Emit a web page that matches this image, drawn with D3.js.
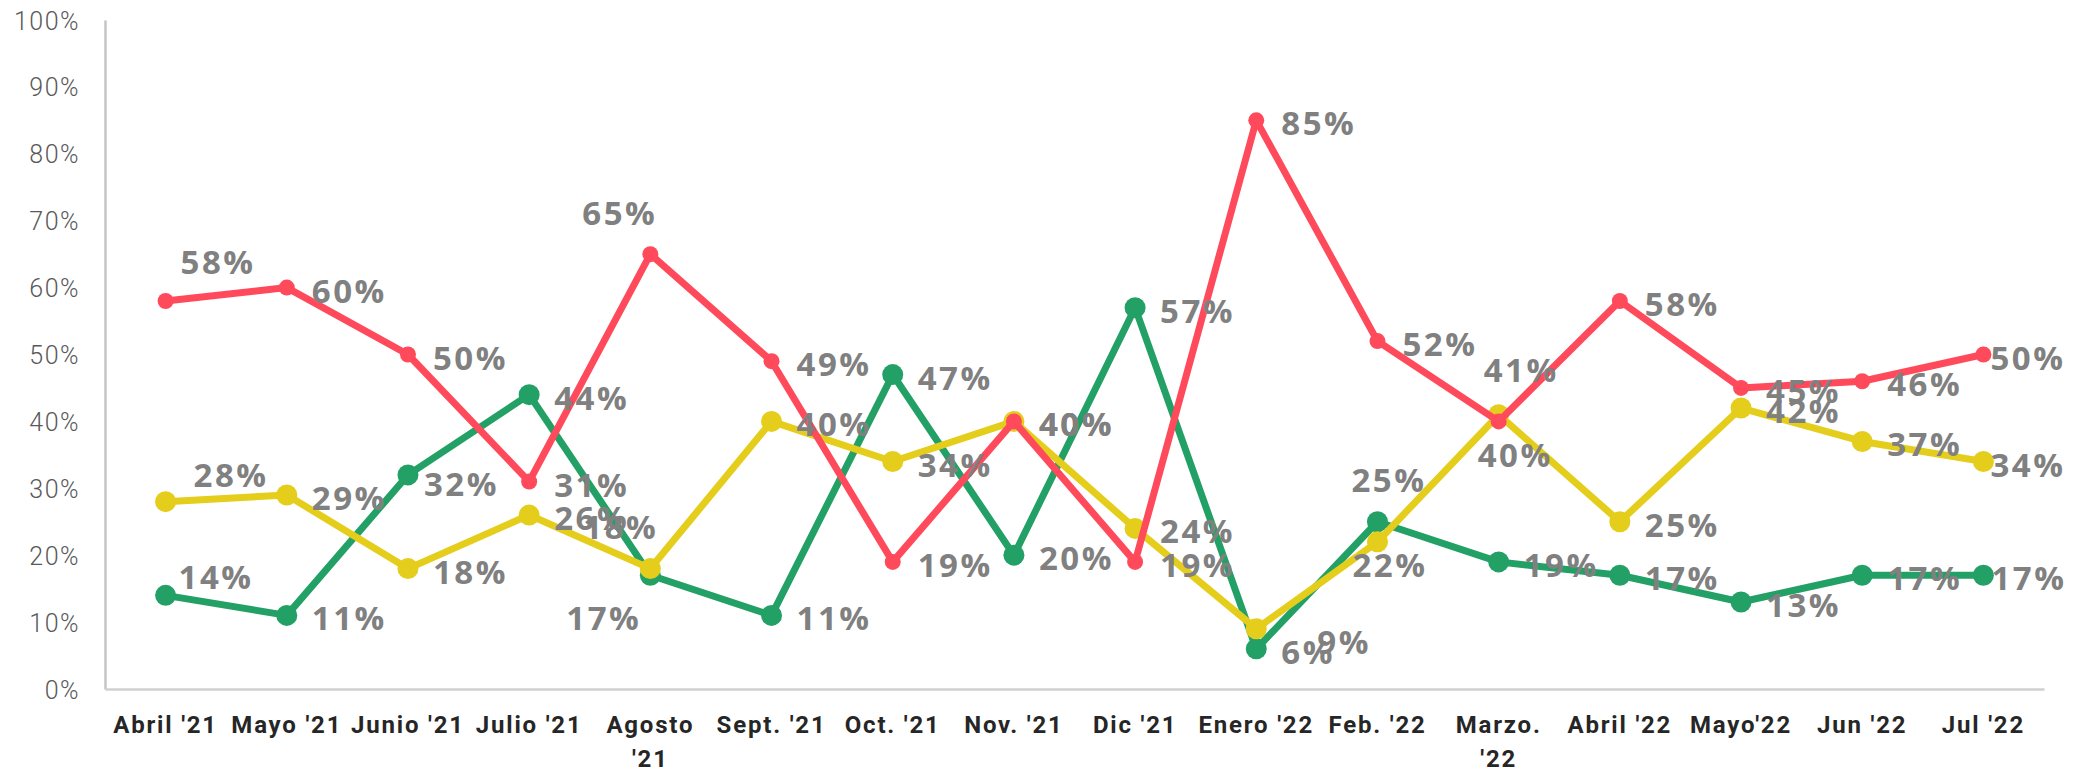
<!DOCTYPE html>
<html>
<head>
<meta charset="utf-8">
<script src="https://cdn.jsdelivr.net/npm/d3@7"></script>
<style>
  body { margin: 0; background: #fff; }
</style>
</head>
<body>
<div id="container"></div>
<script>
let w = 2086;
let h = 772;

// categories (a "\n" marks where the label wraps)
let months = ["Abril '21", "Mayo '21", "Junio '21", "Julio '21", "Agosto\n'21", "Sept. '21",
  "Oct. '21", "Nov. '21", "Dic '21", "Enero '22", "Feb. '22", "Marzo.\n'22",
  "Abril '22", "Mayo'22", "Jun '22", "Jul '22"];

// series values
let rojo     = [0.58, 0.60, 0.50, 0.31, 0.65, 0.49, 0.19, 0.40, 0.19, 0.85, 0.52, 0.40, 0.58, 0.45, 0.46, 0.50];
let verde    = [0.14, 0.11, 0.32, 0.44, 0.17, 0.11, 0.47, 0.20, 0.57, 0.06, 0.25, 0.19, 0.17, 0.13, 0.17, 0.17];
let amarillo = [0.28, 0.29, 0.18, 0.26, 0.18, 0.40, 0.34, 0.40, 0.24, 0.09, 0.22, 0.41, 0.25, 0.42, 0.37, 0.34];

// y tick values
let yTicks = [0, 0.1, 0.2, 0.3, 0.4, 0.5, 0.6, 0.7, 0.8, 0.9, 1];

// data labels moved by hand in the original (left edge dx, middle dy); the rest sit to the right
let nudgeRojo     = {0: [15, -39], 4: [-68, -41], 11: [-21, 34], 15: [7, 3]};
let nudgeVerde    = {0: [13, -18], 2: [16, 9], 4: [-84, 43], 10: [-26, -42], 15: [8, 3]};
let nudgeAmarillo = {0: [28, -27], 4: [-67, -42], 9: [61, 13], 10: [-25, 23], 11: [-15, -45], 15: [7, 3]};

let series = [
  {name: "verde", values: verde, color: "#23A066", r: 10.5, nudge: nudgeVerde},
  {name: "amarillo", values: amarillo, color: "#E5CD1B", r: 10.5, nudge: nudgeAmarillo},
  {name: "rojo", values: rojo, color: "#FF4A5C", r: 8, nudge: nudgeRojo}
];

let x = d3.scaleBand().domain(months).range([105, 2044]);
let y = d3.scaleLinear().domain([0, 1]).range([689, 20]);
let cx = (d, i) => x(months[i]) + x.bandwidth() / 2;

let viz = d3.select("#container")
  .append("svg")
    .attr("width", w)
    .attr("height", h)
    .style("background-color", "#fff");

// y axis
let yAxis = viz.append("g")
  .attr("transform", "translate(105,0)")
  .call(d3.axisLeft(y).tickValues(yTicks).tickFormat(d3.format(".0%")).tickSize(0).tickPadding(25));
yAxis.select(".domain").attr("stroke", "#C4C4C4").attr("stroke-width", 2.5);
yAxis.selectAll("text")
  .attr("dy", "0.36em")
  .attr("fill", "#595959")
  .style("font-family", "Roboto, 'Liberation Sans', sans-serif")
  .style("font-weight", 300)
  .style("font-size", "25px")
  .style("letter-spacing", "1.5px");

// x axis
let xAxis = viz.append("g")
  .attr("transform", "translate(0,689)")
  .call(d3.axisBottom(x).tickSize(0).tickSizeOuter(0));
xAxis.select(".domain").attr("stroke", "#D0D0D0").attr("stroke-width", 2.5);
xAxis.selectAll("text")
  .attr("dy", null)
  .attr("fill", "#262626")
  .style("font-family", "Roboto, 'Liberation Sans', sans-serif")
  .style("font-weight", 700)
  .style("font-size", "24px")
  .style("letter-spacing", "1.8px")
  .each(function(d) {
    let t = d3.select(this).text("");
    d.split("\n").forEach((line, k) => {
      t.append("tspan").attr("x", 0).attr("y", 44 + k * 34).text(line);
    });
  });

// lines and markers
let line = d3.line().x(cx).y(d => y(d));

series.forEach(s => {
  let g = viz.append("g").attr("class", "serie-" + s.name);
  g.append("path")
    .datum(s.values)
    .attr("d", line)
    .attr("fill", "none")
    .attr("stroke", s.color)
    .attr("stroke-width", 7)
    .attr("stroke-linejoin", "round");
  g.selectAll("circle")
    .data(s.values)
    .join("circle")
      .attr("cx", cx)
      .attr("cy", d => y(d))
      .attr("r", s.r)
      .attr("fill", s.color);
});

// data labels on top
let fmt = d3.format(".0%");
series.forEach(s => {
  viz.append("g")
    .selectAll("text")
    .data(s.values)
    .join("text")
      .attr("x", (d, i) => cx(d, i) + (s.nudge[i] ? s.nudge[i][0] : 25))
      .attr("y", (d, i) => y(d) + (s.nudge[i] ? s.nudge[i][1] : 3) + 12)
      .attr("fill", "#808080")
      .style("font-family", "'Open Sans', Lato, sans-serif")
      .style("font-weight", 700)
      .style("font-size", "33px")
      .style("letter-spacing", "2.5px")
      .text(d => fmt(d));
});
</script>
</body>
</html>
